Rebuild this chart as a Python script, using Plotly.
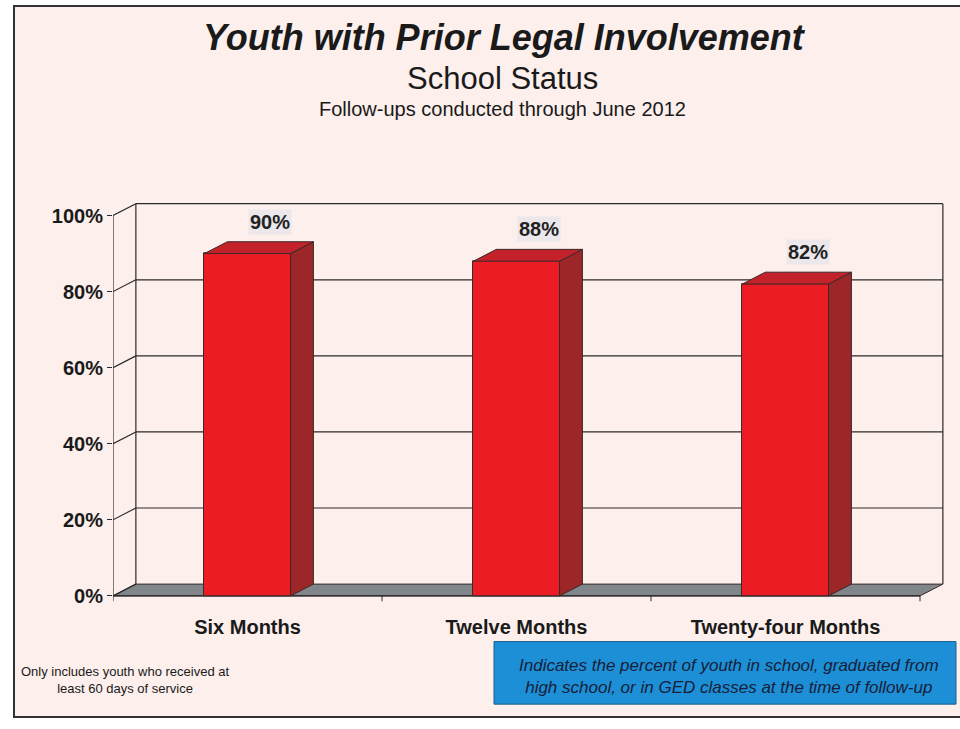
import plotly.graph_objects as go

# ---- data ----
categories = ["Six Months", "Twelve Months", "Twenty-four Months"]
values = [90, 88, 82]
value_labels = ["90%", "88%", "82%"]
y_ticks = [0, 20, 40, 60, 80, 100]
y_tick_text = ["0%", "20%", "40%", "60%", "80%", "100%"]

# ---- styling / pseudo-3D geometry (data units) ----
BAR_W = 0.32          # bar width in category units
DX = 0.085            # depth offset along x
DY = 3.1              # depth offset along y (percent)
X_LO, X_HI = -0.5, len(categories) - 0.5
FRONT = "#ec1c24"
SIDE = "#9c2628"
TOP = "#c4222a"
FLOOR = "#80868a"
EDGE = "#3a2a2a"
GRID = "#2a2a2a"
BG = "#fcefec"
FONT = "Arial, Liberation Sans"

W, H = 960, 729
x_range = [X_LO, X_HI + DX + 0.005]
y_range = [-1.5, 104]
# pixel placement of the plotting region
px_left, px_scale_x = 113, 269.0
py_zero, py_scale_y = 600, 3.83
dom_x = [px_left / W, (px_left + (x_range[1] - x_range[0]) * px_scale_x) / W]
dom_y = [(H - (py_zero - y_range[0] * py_scale_y)) / H,
         (H - (py_zero - y_range[1] * py_scale_y)) / H]

fig = go.Figure()
shapes = []

# page frame
shapes.append(dict(type="rect", xref="paper", yref="paper", layer="below",
                   x0=14 / W, x1=1.02, y0=1 - 722 / H, y1=1 - 6 / H,
                   fillcolor=BG, line=dict(color="#333", width=2)))

# floor slab
shapes.append(dict(type="path", xref="x", yref="y", layer="below",
                   path=f"M {X_LO},0 L {X_HI},0 L {X_HI + DX},{DY} L {X_LO + DX},{DY} Z",
                   fillcolor=FLOOR, line=dict(color=EDGE, width=1)))

# back wall gridlines and left-wall diagonals
for v in y_ticks:
    if v > 0:
        shapes.append(dict(type="line", xref="x", yref="y", layer="below",
                           x0=X_LO + DX, x1=X_HI + DX, y0=v + DY, y1=v + DY,
                           line=dict(color=GRID, width=1.2)))
    shapes.append(dict(type="line", xref="x", yref="y", layer="below",
                       x0=X_LO, x1=X_LO + DX, y0=v, y1=v + DY,
                       line=dict(color=GRID, width=1.2)))
# wall edges
shapes.append(dict(type="line", xref="x", yref="y", layer="below",
                   x0=X_LO + DX, x1=X_LO + DX, y0=DY, y1=y_ticks[-1] + DY,
                   line=dict(color=GRID, width=1.2)))
shapes.append(dict(type="line", xref="x", yref="y", layer="below",
                   x0=X_HI + DX, x1=X_HI + DX, y0=DY, y1=y_ticks[-1] + DY,
                   line=dict(color=GRID, width=1.2)))
# front value axis and category axis
shapes.append(dict(type="line", xref="x", yref="y", layer="below",
                   x0=X_LO, x1=X_LO, y0=0, y1=y_ticks[-1],
                   line=dict(color=GRID, width=1.2)))
shapes.append(dict(type="line", xref="x", yref="y", layer="below",
                   x0=X_LO, x1=X_HI, y0=0, y1=0,
                   line=dict(color=GRID, width=1.2)))
# category separators hanging below the floor
for i in range(len(categories) + 1):
    xb = X_LO + i
    shapes.append(dict(type="line", xref="x", yref="y", layer="above",
                       x0=xb, x1=xb, y0=0, y1=-1.5,
                       line=dict(color=GRID, width=1)))

# bars: front face, side face, top face
fig.add_trace(go.Bar(x=list(range(len(categories))), y=values, width=BAR_W,
                     marker=dict(color=FRONT, line=dict(color=EDGE, width=1)),
                     hoverinfo="skip", showlegend=False))
for i, v in enumerate(values):
    xl, xr = i - BAR_W / 2, i + BAR_W / 2
    fig.add_trace(go.Scatter(
        x=[xr, xr + DX, xr + DX, xr, xr], y=[0, DY, v + DY, v, 0],
        mode="lines", fill="toself", fillcolor=SIDE,
        line=dict(color=EDGE, width=1), hoverinfo="skip", showlegend=False))
    fig.add_trace(go.Scatter(
        x=[xl, xr, xr + DX, xl + DX, xl], y=[v, v, v + DY, v + DY, v],
        mode="lines", fill="toself", fillcolor=TOP,
        line=dict(color=EDGE, width=1), hoverinfo="skip", showlegend=False))

annotations = []
for i, (v, t) in enumerate(zip(values, value_labels)):
    annotations.append(dict(x=i + DX, y=v + DY, xref="x", yref="y", text=f"<b>{t}</b>",
                            showarrow=False, yshift=20, bgcolor="#ebe7ea",
                            xanchor="center", yanchor="middle",
                            font=dict(family=FONT, size=20, color="#222")))


def note(x, y, text, size, color="#1a1a1a"):
    return dict(x=x / W, y=1 - y / H, xref="paper", yref="paper", showarrow=False,
                xanchor="center", yanchor="middle", text=text,
                font=dict(family=FONT, size=size, color=color))


annotations += [
    note(505, 38, "<b><i>Youth with Prior Legal Involvement</i></b>", 36),
    note(502, 79, "School Status", 31),
    note(502, 110, "Follow-ups conducted through June 2012", 20),
    note(125, 685, "Only includes youth who received at<br>least 60 days of service", 13),
    note(729, 681, "<i>Indicates the percent of youth in school, graduated from<br>"
                   "high school, or in GED classes at the time of follow-up</i>",
         17, "#172038"),
]

# blue note box
shapes.append(dict(type="rect", xref="paper", yref="paper", layer="below",
                   x0=494 / W, x1=956 / W, y0=1 - 709 / H, y1=1 - 646 / H,
                   fillcolor="#1c8fd6", line=dict(color="#1c5f8c", width=1)))

fig.update_layout(
    width=W, height=H,
    margin=dict(l=0, r=0, t=0, b=0),
    paper_bgcolor="white",
    plot_bgcolor="rgba(0,0,0,0)",
    shapes=shapes,
    annotations=annotations,
    bargap=0,
    xaxis=dict(domain=dom_x, range=x_range, showgrid=False, zeroline=False,
               showline=False, tickmode="array", tickvals=list(range(len(categories))),
               ticktext=[f"<b>{c}</b>" for c in categories], ticks="",
               ticklabelstandoff=11,
               tickfont=dict(family=FONT, size=20, color="#1a1a1a")),
    yaxis=dict(domain=dom_y, range=y_range, showgrid=False, zeroline=False,
               showline=False, tickmode="array", tickvals=y_ticks,
               ticktext=[f"<b>{t}</b>" for t in y_tick_text],
               ticks="outside", ticklen=5, tickcolor=GRID,
               tickfont=dict(family=FONT, size=20, color="#1a1a1a")),
)

fig.write_html("out.html")
